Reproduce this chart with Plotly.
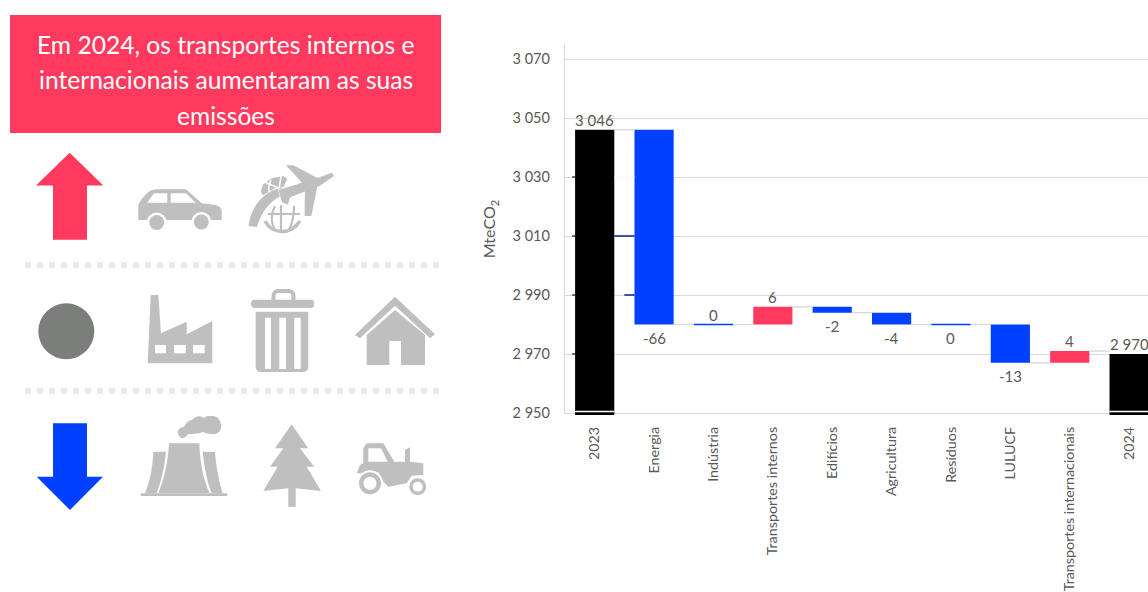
import re
import plotly.graph_objects as go

# Emissions bridge, MteCO2
categories = ["2023", "Energia", "Indústria", "Transportes internos", "Edifícios",
              "Agricultura", "Resíduos", "LULUCF", "Transportes internacionais", "2024"]
values = [3046, -66, 0, 6, -2, -4, 0, -13, 4, 2970]
measures = ["absolute"] + ["relative"] * 8 + ["absolute"]
value_labels = ["3 046", "-66", "0", "6", "-2", "-4", "0", "-13", "4", "2 970"]
label_below = [False, True, False, False, True, True, True, True, False, False]
y_ticks = [2950, 2970, 2990, 3010, 3030, 3050, 3070]
y_tick_labels = ["2 950", "2 970", "2 990", "3 010", "3 030", "3 050", "3 070"]
headline = ["Em 2024, os transportes internos e", "internacionais aumentaram as suas", "emissões"]

W, H = 1148, 592
FONT = "Lato"
BAR = 0.66
RED, BLUE, GREY, INK, RULE = "#FF3A5E", "#0041FF", "#BFBFBF", "#595959", "#D9D9D9"


def px(x):
    return x / W


def py(y):
    return 1 - y / H


def to_paper(path):
    """Turn an SVG-like path in canvas pixels into paper coordinates."""
    parts = re.findall(r"[MLCQZ]|-?\d+\.?\d*", path)
    out, is_x = [], True
    for p in parts:
        if p in "MLCQZ":
            out.append(p)
            is_x = True
        else:
            out.append(f"{px(float(p)):.5f}" if is_x else f"{py(float(p)):.5f}")
            is_x = not is_x
    return " ".join(out)


def zoomed(ox, oy, pts):
    """Polygon points given at triple scale around an origin, as a closed path."""
    coords = [(ox + a / 3, oy + b / 3) for a, b in pts]
    return "M" + " L".join(f"{a:.1f} {b:.1f}" for a, b in coords) + " Z"


shapes = []


def fill(path, color=GREY):
    shapes.append(dict(type="path", xref="paper", yref="paper", path=to_paper(path),
                       fillcolor=color, line=dict(width=0), layer="above"))


def stroke(path, width, color=GREY):
    shapes.append(dict(type="path", xref="paper", yref="paper", path=to_paper(path),
                       line=dict(color=color, width=width), layer="above"))


def disc(cx, cy, r, color=GREY):
    shapes.append(dict(type="circle", xref="paper", yref="paper",
                       x0=px(cx - r), x1=px(cx + r), y0=py(cy + r), y1=py(cy - r),
                       fillcolor=color, line=dict(width=0), layer="above"))


# Headline box
shapes.append(dict(type="rect", xref="paper", yref="paper", x0=px(10), x1=px(441),
                   y0=py(133), y1=py(15), fillcolor=RED, line=dict(width=0), layer="above"))

# Direction markers
fill("M69.7 152.7 L103.3 185.5 L87 185.5 L87 239.7 L53 239.7 L53 185.5 L36 185.5 Z", RED)
disc(66.3, 331.3, 28, "#7C7E7C")
fill("M53 423.3 L87 423.3 L87 476.7 L103 476.7 L70 510 L36.7 476.7 L53 476.7 Z", BLUE)

# Row separators
for sep_y in (265, 391):
    shapes.append(dict(type="line", xref="paper", yref="paper", x0=px(25), x1=px(439),
                       y0=py(sep_y), y1=py(sep_y), layer="above",
                       line=dict(color="#E8E8E8", width=5.5, dash="6px,6px")))

# Car
fill("M138.3 205 C140 201 145 194 150 191 C152 190 154 189.3 156 189.3 L186 189.3 "
     "L201.7 203.3 L215 205 C219 206 221.7 208 221.7 211 L221.7 220 L138.3 220 Z")
fill(zoomed(130, 160, [(52, 128), (72, 100), (112, 100), (112, 128)]), "white")
fill(zoomed(130, 160, [(122, 100), (168, 100), (197, 128), (122, 128)]), "white")
for cx, cy in ((156.7, 222.5), (201.3, 222)):
    disc(cx, cy, 10, "white")
    disc(cx, cy, 7.5)

# Globe with aeroplane
fill(zoomed(240, 160, [(62, 95), (70, 72), (95, 55), (130, 48), (142, 56), (130, 82),
                       (105, 85), (82, 98), (68, 106)]))
stroke("M262 181 L283 190 M281 176 L279 190 M271 180 C268 186 268 190 270 195", 1.6, "white")
stroke("M265 221 C272 234 290 236 300 221", 3.5)
stroke("M281 205 L281 232 M268 214 L300 214 M274 228 C270 220 272 212 275 206 "
       "M289 230 C293 222 294 214 294 206", 2.2)
fill("M248.5 226 C251 206 264 191 281 188 L285 194 C271 199 261 212 257 227 Z")
plane_parts = [
    [(138, 16), (160, 16), (234, 55), (190, 72)],
    [(195, 85), (234, 70), (214, 168), (194, 168)],
    [(116, 90), (230, 55), (275, 38), (282, 48), (240, 77), (150, 112), (123, 106)],
    [(116, 90), (154, 95), (144, 134), (126, 127)],
]
for part in plane_parts:
    shapes.append(dict(type="path", xref="paper", yref="paper",
                       path=to_paper(zoomed(240, 160, part)), fillcolor=GREY,
                       line=dict(color="white", width=1), layer="above"))
for part in plane_parts:
    fill(zoomed(240, 160, part))

# Factory
fill(zoomed(135, 285, [(47, 30), (70, 30), (78, 145), (155, 110), (155, 148), (232, 108),
                       (232, 235), (38, 235)]))
for a, b in ((60, 93), (117, 152), (174, 209)):
    fill(zoomed(135, 285, [(a, 180), (b, 180), (b, 205), (a, 205)]), "white")

# Waste bin
fill("M254 299.7 L311.7 299.7 C315 299.7 315 308 311.7 308 L254 308 C250 308 250 299.7 254 299.7 Z")
stroke("M273.5 300 L273.5 296 C273.5 292.5 276 291 278 291 L289 291 C291 291 293.5 292.5 "
       "293.5 296 L293.5 300", 4)
fill("M255.7 311.7 L308.3 311.7 L308.3 367 C308.3 370 306 372 303 372 L261 372 "
     "C258 372 255.7 370 255.7 367 Z")
for a, b in ((390, 408), (433, 453), (478, 497)):
    fill(zoomed(135, 285, [(a, 98), (b, 98), (b, 252), (a, 252)]), "white")

# House
fill(zoomed(350, 285, [(135, 35), (255, 148), (240, 160), (135, 62), (30, 160), (15, 150)]))
fill(zoomed(350, 285, [(135, 75), (225, 150), (225, 240), (153, 240), (153, 168), (118, 168),
                       (118, 240), (50, 240), (50, 150)]))

# Cooling towers
fill("M169 443.3 L199.3 443.3 C200 465 205 485 210 493.3 L158.3 493.3 C164 480 168 462 169 443.3 Z")
fill("M153.3 451.7 L166 451.7 C165 465 161 482 156.7 493.3 L145 493.3 C150 482 153 465 153.3 451.7 Z")
fill("M202.7 451.7 L215 451.7 C216 465 219 482 222.7 493.3 L211.7 493.3 C207 482 204 465 202.7 451.7 Z")
fill("M140.7 493.3 L227.3 493.3 L227.3 496 L140.7 496 Z")
fill("M179 436 C176 431 179 427 184 427 C186 423 189 420 192 420 C195 416 200 415 204 418 "
     "C207 415 214 415 218 418 C222 423 222 429 219 432 C215 436 207 434 203 432 "
     "C198 434 192 434 188 434 C185 439 181 439 179 436 Z")

# Tree
fill(zoomed(255, 415, [(110, 28), (160, 100), (135, 100), (178, 155), (155, 155), (198, 228),
                       (122, 220), (122, 275), (100, 275), (100, 220), (25, 228), (68, 155),
                       (45, 155), (85, 100), (60, 100)]))

# Tractor
fill(zoomed(255, 415, [(325, 145), (325, 100), (335, 85), (385, 85), (418, 140), (450, 140),
                       (450, 105), (465, 97), (465, 140), (505, 145), (505, 180), (470, 182),
                       (455, 205), (400, 215), (385, 200), (370, 172), (320, 175), (305, 175),
                       (315, 150)]))
fill(zoomed(255, 415, [(340, 100), (378, 100), (398, 140), (340, 140)]), "white")
disc(370, 483.3, 13, "white")
disc(370, 483.3, 11)
disc(370, 483.3, 6.5, "white")
disc(417.7, 486.7, 10, "white")
disc(417.7, 486.7, 8.5)
disc(417.7, 486.7, 5, "white")

annotations = []
for i, line in enumerate(headline):
    annotations.append(dict(text=line, xref="paper", yref="paper", x=px(225.5), y=py(45 + 35 * i),
                            xanchor="center", yanchor="middle", showarrow=False,
                            font=dict(family=FONT, size=24.6, color="white")))

# Running totals of the bridge give every bar's lower and upper edge
positions = list(range(len(categories)))
levels = []
edges = []
for val, meas in zip(values, measures):
    start = 0 if meas == "absolute" else (levels[-1] if levels else 0)
    end = val if meas == "absolute" else start + val
    levels.append(end)
    edges.append((min(start, end), max(start, end)))

for i, (lab, below, (low, high)) in enumerate(zip(value_labels, label_below, edges)):
    annotations.append(dict(text=lab, x=i, y=low if below else high, xref="x", yref="y",
                            showarrow=False, yanchor="top" if below else "bottom",
                            yshift=-2 if below else -1,
                            font=dict(family=FONT, size=15, color=INK)))

# Gridline accents around the first total bar, and its broken foot
for tick in y_ticks[1:5]:
    shapes.append(dict(type="line", xref="x", yref="y", x0=-BAR / 2 - 0.05, x1=-BAR / 2,
                       y0=tick, y1=tick, line=dict(color="#222222", width=1.3)))
for tick, start in ((3030, 0), (3010, 0), (2990, 0.5)):
    shapes.append(dict(type="line", xref="x", yref="y", x0=BAR / 2 + start * (1 - BAR),
                       x1=1 - BAR / 2, y0=tick, y1=tick,
                       line=dict(color="white" if tick == 3030 else "#00209F", width=1.5)))
for i, meas in enumerate(measures):
    if meas == "absolute":
        left, right = i - BAR / 2, i + BAR / 2
        shapes.append(dict(type="rect", xref="x", yref="paper", x0=left, x1=right,
                           y0=py(415), y1=py(413), fillcolor="black", line=dict(width=0),
                           layer="above"))
        shapes.append(dict(type="line", xref="x", yref="paper", x0=left, x1=right,
                           y0=py(411.5), y1=py(411.5), layer="above",
                           line=dict(color="white", width=1.4)))

# Connectors run from each bar's closing level to the next bar
link_x, link_y = [], []
for i in positions[:-1]:
    link_x += [i + BAR / 2, i + 1 - BAR / 2, None]
    link_y += [levels[i], levels[i], None]

# Categories with no change still get a hairline at the running level
flat_x, flat_y = [], []
for i, val in enumerate(values):
    if val == 0:
        flat_x += [i - BAR / 2, i + BAR / 2, None]
        flat_y += [levels[i], levels[i], None]

fig = go.Figure()
fig.add_trace(go.Scatter(x=link_x, y=link_y, mode="lines", hoverinfo="skip",
                         line=dict(color=RULE, width=1.4)))
fig.add_trace(go.Waterfall(
    x=positions, y=values, measure=measures, width=BAR,
    increasing=dict(marker=dict(color=RED)),
    decreasing=dict(marker=dict(color=BLUE)),
    totals=dict(marker=dict(color="black")),
    connector=dict(visible=False),
    hoverinfo="y",
))
fig.add_trace(go.Scatter(x=flat_x, y=flat_y, mode="lines", hoverinfo="skip",
                         line=dict(color=BLUE, width=1.3)))

fig.update_layout(
    width=W, height=H, autosize=False, showlegend=False,
    margin=dict(l=0, r=0, t=0, b=0), paper_bgcolor="white", plot_bgcolor="white",
    font=dict(family=FONT, size=14, color=INK),
    shapes=shapes, annotations=annotations,
    xaxis=dict(domain=[px(565), 1], range=[-0.5, 9.318], tickmode="array",
               tickvals=positions, ticktext=categories, tickangle=-90,
               showgrid=False, zeroline=False, showline=True, linecolor=RULE, linewidth=1.3,
               ticks="", ticklabelstandoff=7, automargin=False,
               tickfont=dict(family=FONT, size=14.3, color=INK)),
    yaxis=dict(domain=[py(413), py(45)], range=[2950, 3074.75], tickvals=y_ticks,
               ticktext=y_tick_labels, showgrid=True, gridcolor=RULE, gridwidth=1.3,
               zeroline=False, showline=True, linecolor=RULE, linewidth=1.3, ticks="",
               ticklabelstandoff=11, automargin=False,
               tickfont=dict(family=FONT, size=14.5, color=INK),
               title=dict(text="MteCO<sub>2</sub>", standoff=12,
                          font=dict(family=FONT, size=16, color=INK))),
)

fig.write_html("out.html")
